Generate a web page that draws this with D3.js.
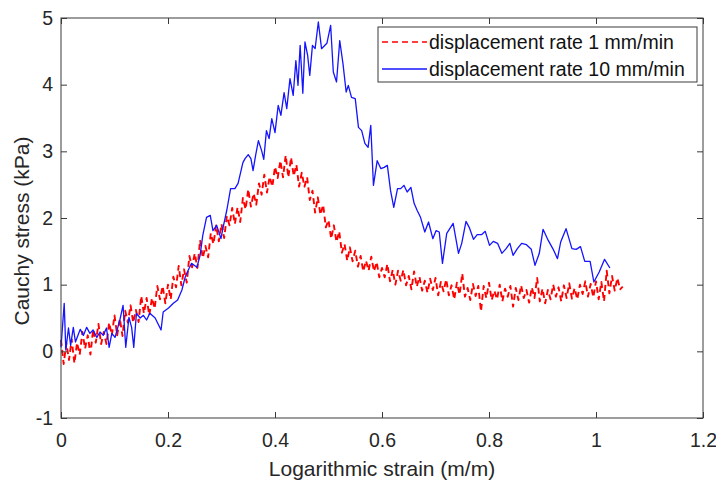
<!DOCTYPE html>
<html>
<head>
<meta charset="utf-8">
<script src="https://cdn.jsdelivr.net/npm/d3@7"></script>
<style>
  body { margin: 0; background: #fff; }
  svg { display: block; font-family: "Liberation Sans", Arial, sans-serif; }
</style>
</head>
<body>
<svg id="chart" width="716" height="483"></svg>
<script>
// strain (m/m), stress (kPa)
const rate1 = [
  [0.000,0.17],[0.005,-0.19],[0.010,0.12],[0.015,-0.13],[0.020,0.18],[0.025,-0.18],[0.030,0.13],[0.035,-0.05],
  [0.040,0.29],[0.045,0.04],[0.050,0.24],[0.055,-0.05],[0.060,0.33],[0.065,0.13],[0.070,0.41],[0.075,0.11],
  [0.080,0.29],[0.085,0.11],[0.090,0.43],[0.095,0.24],[0.100,0.54],[0.105,0.24],[0.110,0.49],[0.115,0.23],
  [0.120,0.61],[0.125,0.43],[0.130,0.69],[0.135,0.43],[0.140,0.62],[0.145,0.44],[0.150,0.83],[0.155,0.57],
  [0.160,0.80],[0.165,0.54],[0.170,0.80],[0.175,0.64],[0.180,0.98],[0.185,0.78],[0.190,0.98],[0.195,0.72],
  [0.200,1.00],[0.205,0.78],[0.210,1.12],[0.215,0.96],[0.220,1.28],[0.225,0.99],[0.230,1.23],[0.235,1.03],
  [0.240,1.43],[0.245,1.26],[0.250,1.47],[0.255,1.25],[0.260,1.67],[0.265,1.40],[0.270,1.58],[0.275,1.41],
  [0.280,1.77],[0.285,1.61],[0.290,1.89],[0.295,1.65],[0.300,1.91],[0.305,1.70],[0.310,2.03],[0.315,1.89],
  [0.320,2.15],[0.325,1.91],[0.330,2.16],[0.335,1.94],[0.340,2.30],[0.345,2.13],[0.350,2.43],[0.355,2.17],
  [0.360,2.37],[0.365,2.20],[0.370,2.52],[0.375,2.35],[0.380,2.65],[0.385,2.38],[0.390,2.62],[0.395,2.47],
  [0.400,2.77],[0.405,2.60],[0.410,2.86],[0.415,2.61],[0.420,2.94],[0.425,2.61],[0.430,2.91],[0.435,2.63],
  [0.440,2.80],[0.445,2.47],[0.450,2.68],[0.455,2.47],[0.460,2.61],[0.465,2.27],[0.470,2.41],[0.475,2.08],
  [0.480,2.31],[0.485,2.05],[0.490,2.20],[0.495,1.86],[0.500,1.97],[0.505,1.69],[0.510,1.89],[0.515,1.64],
  [0.520,1.80],[0.525,1.48],[0.530,1.61],[0.535,1.36],[0.540,1.56],[0.545,1.35],[0.550,1.51],[0.555,1.27],
  [0.560,1.43],[0.565,1.20],[0.570,1.36],[0.575,1.21],[0.580,1.42],[0.585,1.20],[0.590,1.34],[0.595,1.11],
  [0.600,1.25],[0.605,1.11],[0.610,1.31],[0.615,1.05],[0.620,1.22],[0.625,1.00],[0.630,1.21],[0.635,1.06],
  [0.640,1.22],[0.645,0.99],[0.650,1.13],[0.655,0.93],[0.660,1.20],[0.665,0.97],[0.670,1.12],[0.675,0.91],
  [0.680,1.06],[0.685,0.88],[0.690,1.09],[0.695,0.92],[0.700,1.10],[0.705,0.84],[0.710,1.04],[0.715,0.90],
  [0.720,1.08],[0.725,0.84],[0.730,0.99],[0.735,0.78],[0.740,1.03],[0.745,0.85],[0.750,1.17],[0.755,0.82],
  [0.760,0.95],[0.765,0.77],[0.770,1.01],[0.775,0.83],[0.780,0.98],[0.785,0.60],[0.790,0.98],[0.795,0.80],
  [0.800,1.03],[0.805,0.77],[0.810,0.91],[0.815,0.78],[0.820,1.00],[0.825,0.75],[0.830,0.94],[0.835,0.82],
  [0.840,0.98],[0.845,0.67],[0.850,0.95],[0.855,0.77],[0.860,0.99],[0.865,0.80],[0.870,0.92],[0.875,0.73],
  [0.880,0.96],[0.885,0.80],[0.890,1.10],[0.895,0.75],[0.900,0.94],[0.905,0.72],[0.910,0.92],[0.915,0.78],
  [0.920,1.00],[0.925,0.82],[0.930,0.96],[0.935,0.75],[0.940,0.99],[0.945,0.80],[0.950,1.02],[0.955,0.79],
  [0.960,0.95],[0.965,0.78],[0.970,1.00],[0.975,0.86],[0.980,1.05],[0.985,0.82],[0.990,1.01],[0.995,0.81],
  [1.000,1.05],[1.005,0.78],[1.010,1.04],[1.015,0.75],[1.020,1.21],[1.025,0.87],[1.030,1.13],[1.035,0.91],
  [1.040,1.10],[1.045,0.93],[1.050,0.97]
];

const rate10 = [
  [0.000,0.06],[0.006,0.72],[0.009,0.02],[0.014,0.35],[0.018,0.09],[0.023,0.36],[0.027,0.14],[0.036,0.33],
  [0.042,0.24],[0.048,0.36],[0.054,0.27],[0.060,0.32],[0.067,0.21],[0.073,0.29],[0.079,0.24],[0.085,0.35],
  [0.090,0.06],[0.095,0.27],[0.101,0.21],[0.110,0.47],[0.116,0.69],[0.121,0.06],[0.127,0.51],[0.132,0.36],
  [0.136,0.06],[0.141,0.57],[0.148,0.50],[0.154,0.54],[0.160,0.47],[0.166,0.57],[0.176,0.50],[0.187,0.32],
  [0.191,0.59],[0.201,0.65],[0.210,0.72],[0.218,0.77],[0.226,0.92],[0.232,1.11],[0.238,1.22],[0.244,1.32],
  [0.254,1.26],[0.260,1.44],[0.265,1.74],[0.272,2.01],[0.279,2.04],[0.284,1.81],[0.291,1.89],[0.299,1.69],
  [0.303,1.86],[0.310,2.12],[0.317,2.44],[0.325,2.44],[0.331,2.52],[0.340,2.83],[0.344,2.89],[0.350,2.95],
  [0.355,2.89],[0.359,2.71],[0.364,2.95],[0.369,3.16],[0.375,3.01],[0.379,2.88],[0.384,3.31],[0.389,3.19],
  [0.394,3.49],[0.400,3.28],[0.406,3.69],[0.411,3.54],[0.417,3.88],[0.422,3.64],[0.428,4.09],[0.434,3.84],
  [0.439,4.36],[0.443,3.99],[0.447,4.59],[0.452,3.87],[0.456,4.64],[0.461,4.44],[0.465,4.14],[0.470,4.59],
  [0.475,4.54],[0.481,4.94],[0.487,4.54],[0.497,4.62],[0.504,4.89],[0.509,4.19],[0.515,4.04],[0.521,4.66],
  [0.527,4.32],[0.533,3.89],[0.537,3.99],[0.543,3.81],[0.550,3.79],[0.556,3.36],[0.562,3.31],[0.568,3.12],
  [0.574,3.06],[0.579,3.39],[0.584,2.49],[0.591,2.86],[0.598,2.74],[0.604,2.76],[0.610,2.79],[0.616,2.41],
  [0.622,2.16],[0.629,2.44],[0.635,2.44],[0.641,2.49],[0.647,2.39],[0.654,2.46],[0.660,2.22],[0.666,2.11],
  [0.672,2.01],[0.680,1.79],[0.687,1.94],[0.695,1.69],[0.701,1.81],[0.707,1.79],[0.713,1.32],[0.721,1.77],
  [0.733,1.92],[0.743,1.47],[0.749,1.62],[0.757,1.95],[0.763,1.86],[0.771,1.68],[0.778,1.75],[0.786,1.75],
  [0.793,1.80],[0.801,1.59],[0.808,1.65],[0.816,1.62],[0.824,1.47],[0.832,1.54],[0.839,1.62],[0.845,1.44],
  [0.853,1.54],[0.861,1.62],[0.870,1.60],[0.879,1.53],[0.886,1.29],[0.894,1.47],[0.901,1.83],[0.911,1.66],
  [0.920,1.53],[0.928,1.39],[0.934,1.64],[0.944,1.84],[0.955,1.54],[0.963,1.53],[0.971,1.57],[0.979,1.35],
  [0.989,1.35],[0.996,1.04],[1.006,1.19],[1.016,1.38],[1.026,1.25]
];

const xTicks = [0, 0.2, 0.4, 0.6, 0.8, 1, 1.2];
const yTicks = [-1, 0, 1, 2, 3, 4, 5];
const seriesNames = ["displacement rate 1 mm/min", "displacement rate 10 mm/min"];

const W = 716, H = 483;
const margin = { top: 18, right: 13, bottom: 65, left: 61 };
const iw = W - margin.left - margin.right;
const ih = H - margin.top - margin.bottom;
const axisColor = "#3a3a3a";
const textColor = "#262626";

const svg = d3.select("#chart");
const g = svg.append("g").attr("transform", `translate(${margin.left},${margin.top})`);

const x = d3.scaleLinear().domain([0, 1.2]).range([0, iw]);
const y = d3.scaleLinear().domain([-1, 5]).range([ih, 0]);

const series = [
  { name: seriesNames[0], data: rate1, color: "#ff0000", width: 1.9, dash: "6,4" },
  { name: seriesNames[1], data: rate10, color: "#1414ff", width: 1.3, dash: null }
];

const line = d3.line().x(d => x(d[0])).y(d => y(d[1]));

series.forEach(s => {
  g.append("path")
    .datum(s.data)
    .attr("fill", "none")
    .attr("stroke", s.color)
    .attr("stroke-width", s.width)
    .attr("stroke-dasharray", s.dash)
    .attr("stroke-linejoin", "round")
    .attr("d", line);
});

// axes, ticks pointing inward; plain hyphen for negatives like the original
const fmt = d => String(d);
function styleAxis(sel) {
  sel.select(".domain").remove();
  sel.selectAll(".tick line").attr("stroke", axisColor);
  sel.selectAll(".tick text").attr("fill", textColor).style("font-size", "19.5px");
}

g.append("g").attr("transform", `translate(0,${ih})`)
  .call(d3.axisBottom(x).tickValues(xTicks).tickSize(-6).tickPadding(15).tickFormat(fmt))
  .call(styleAxis);
g.append("g")
  .call(d3.axisTop(x).tickValues(xTicks).tickSize(-6).tickFormat(""))
  .call(styleAxis);
g.append("g")
  .call(d3.axisLeft(y).tickValues(yTicks).tickSize(-6).tickPadding(8).tickFormat(fmt))
  .call(styleAxis);
g.append("g").attr("transform", `translate(${iw},0)`)
  .call(d3.axisRight(y).tickValues(yTicks).tickSize(-6).tickFormat(""))
  .call(styleAxis);

g.append("rect")
  .attr("x", 0).attr("y", 0).attr("width", iw).attr("height", ih)
  .attr("fill", "none").attr("stroke", axisColor).attr("stroke-width", 1);

// axis titles
svg.append("text")
  .attr("x", margin.left + iw / 2).attr("y", 476)
  .attr("text-anchor", "middle")
  .attr("fill", textColor)
  .style("font-size", "21px")
  .text("Logarithmic strain (m/m)");

svg.append("text")
  .attr("transform", "translate(29,231) rotate(-90)")
  .attr("text-anchor", "middle")
  .attr("fill", textColor)
  .style("font-size", "21px")
  .text("Cauchy stress (kPa)");

// legend
const legend = svg.append("g").attr("transform", "translate(378,27)");
legend.append("rect")
  .attr("width", 319).attr("height", 55)
  .attr("fill", "#fff").attr("stroke", axisColor).attr("stroke-width", 1);

series.forEach((s, i) => {
  const cy = 15 + i * 27;
  legend.append("line")
    .attr("x1", 4).attr("x2", 49).attr("y1", cy).attr("y2", cy)
    .attr("stroke", s.color).attr("stroke-width", Math.min(s.width, 1.5))
    .attr("stroke-dasharray", s.dash);
  legend.append("text")
    .attr("x", 51).attr("y", cy).attr("dy", "0.35em")
    .attr("fill", "#111")
    .style("font-size", "19.5px")
    .text(s.name);
});
</script>
</body>
</html>
